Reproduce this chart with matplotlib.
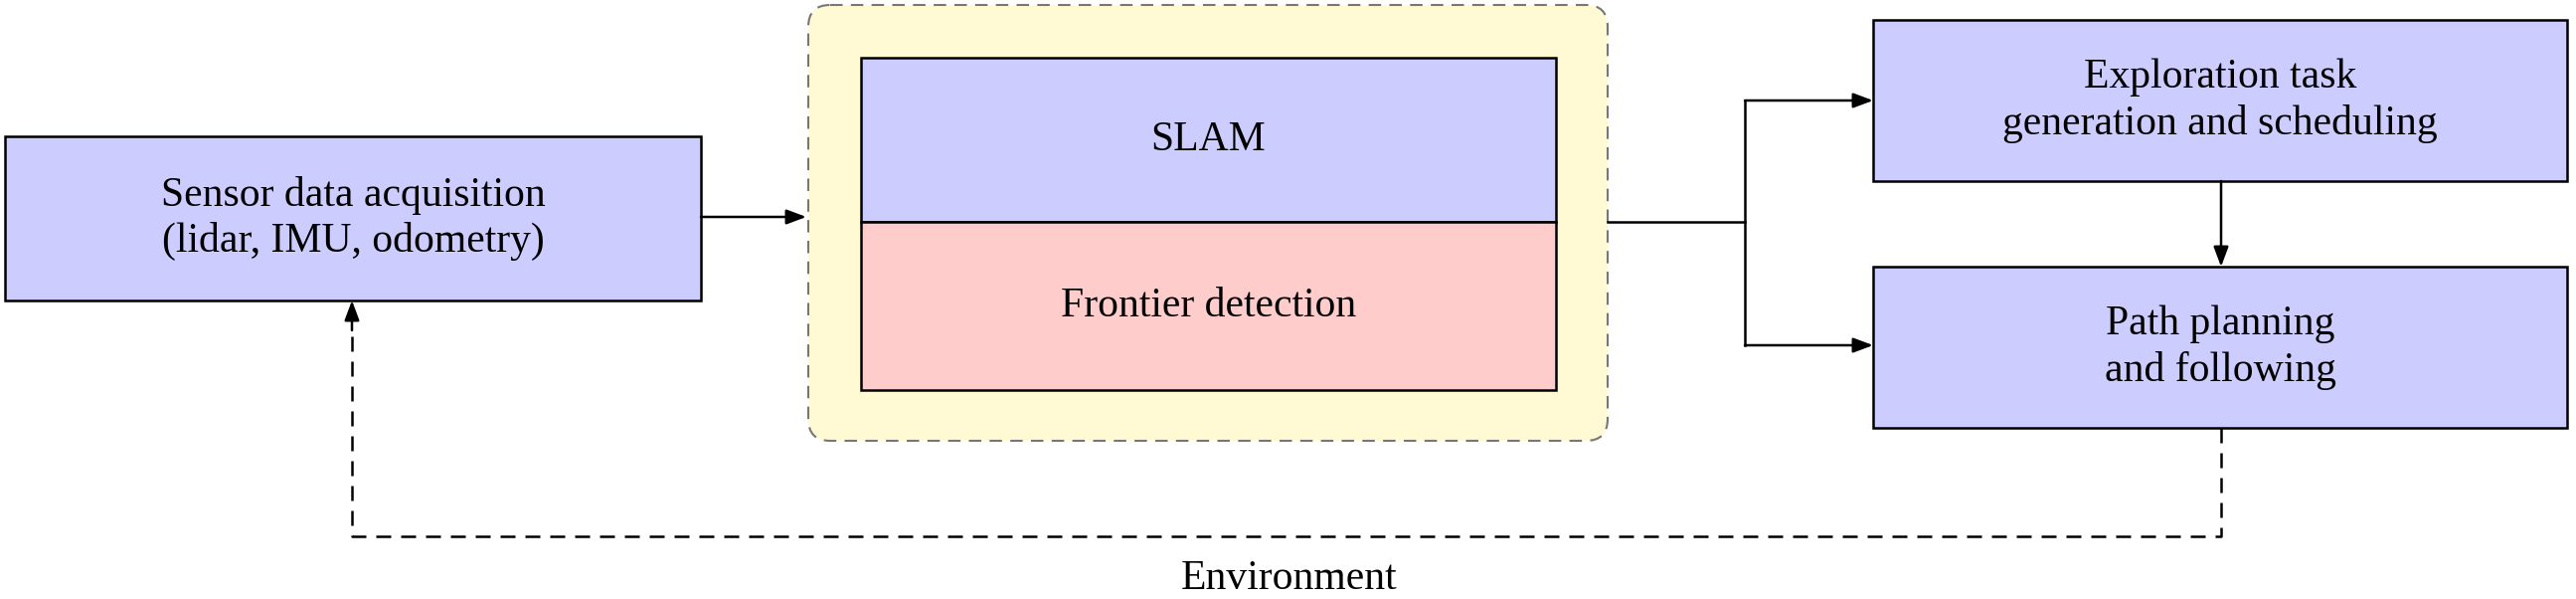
import matplotlib
matplotlib.use('Agg')
import matplotlib.pyplot as plt
from matplotlib.patches import Rectangle, FancyBboxPatch

W, H = 2591, 602
plt.rcParams['font.family'] = ['Liberation Serif', 'DejaVu Serif']
FS = 30

# box labels and extents (pixel coords, y down)
labels = ['Sensor data acquisition\n(lidar, IMU, odometry)', 'SLAM', 'Frontier detection',
          'Exploration task\ngeneration and scheduling', 'Path planning\nand following']
boxes = [(5, 137, 705, 302), (866, 58, 1565, 223), (866, 223, 1565, 392),
         (1884, 20, 2582, 182), (1884, 268, 2582, 430)]
fills = ['#ccccff', '#ccccff', '#ffcccc', '#ccccff', '#ccccff']

fig = plt.figure(figsize=(W / 100, H / 100), dpi=100)
ax = fig.add_axes([0, 0, 1, 1])
ax.set_xlim(0, W)
ax.set_ylim(H, 0)
ax.axis('off')

# yellow container
ax.add_patch(FancyBboxPatch((813, 5), 804, 438, boxstyle='round,pad=0,rounding_size=22',
                            fc='#fff9d4', ec='#777777', ls=(0, (6, 4)), lw=1.5))

for (x0, y0, x1, y1), lab, fc in zip(boxes, labels, fills):
    ax.add_patch(Rectangle((x0, y0), x1 - x0, y1 - y0, fc=fc, ec='black', lw=1.8))
    ax.text((x0 + x1) / 2, (y0 + y1) / 2, lab, ha='center', va='center',
            fontsize=FS, linespacing=1.25)

arr = dict(arrowstyle='-|>,head_length=1.2,head_width=0.45', color='black', lw=1.8,
           shrinkA=0, shrinkB=0)
ax.annotate('', xy=(811, 218), xytext=(705, 218), arrowprops=arr)
ax.plot([1617, 1755], [223, 223], color='black', lw=1.8)
ax.plot([1755, 1755], [101, 347], color='black', lw=1.8)
ax.annotate('', xy=(1884, 101), xytext=(1755, 101), arrowprops=arr)
ax.annotate('', xy=(1884, 347), xytext=(1755, 347), arrowprops=arr)
ax.annotate('', xy=(2234, 268), xytext=(2234, 182), arrowprops=arr)

# dashed feedback loop
ax.plot([2234, 2234, 354, 354], [430, 539, 539, 330], color='black', lw=1.8, ls=(0, (6, 4)))
ax.annotate('', xy=(354, 302), xytext=(354, 332), arrowprops=arr)
ax.text(1297, 582, 'Environment', ha='center', va='center', fontsize=FS)

fig.savefig('out.png', dpi=100)
